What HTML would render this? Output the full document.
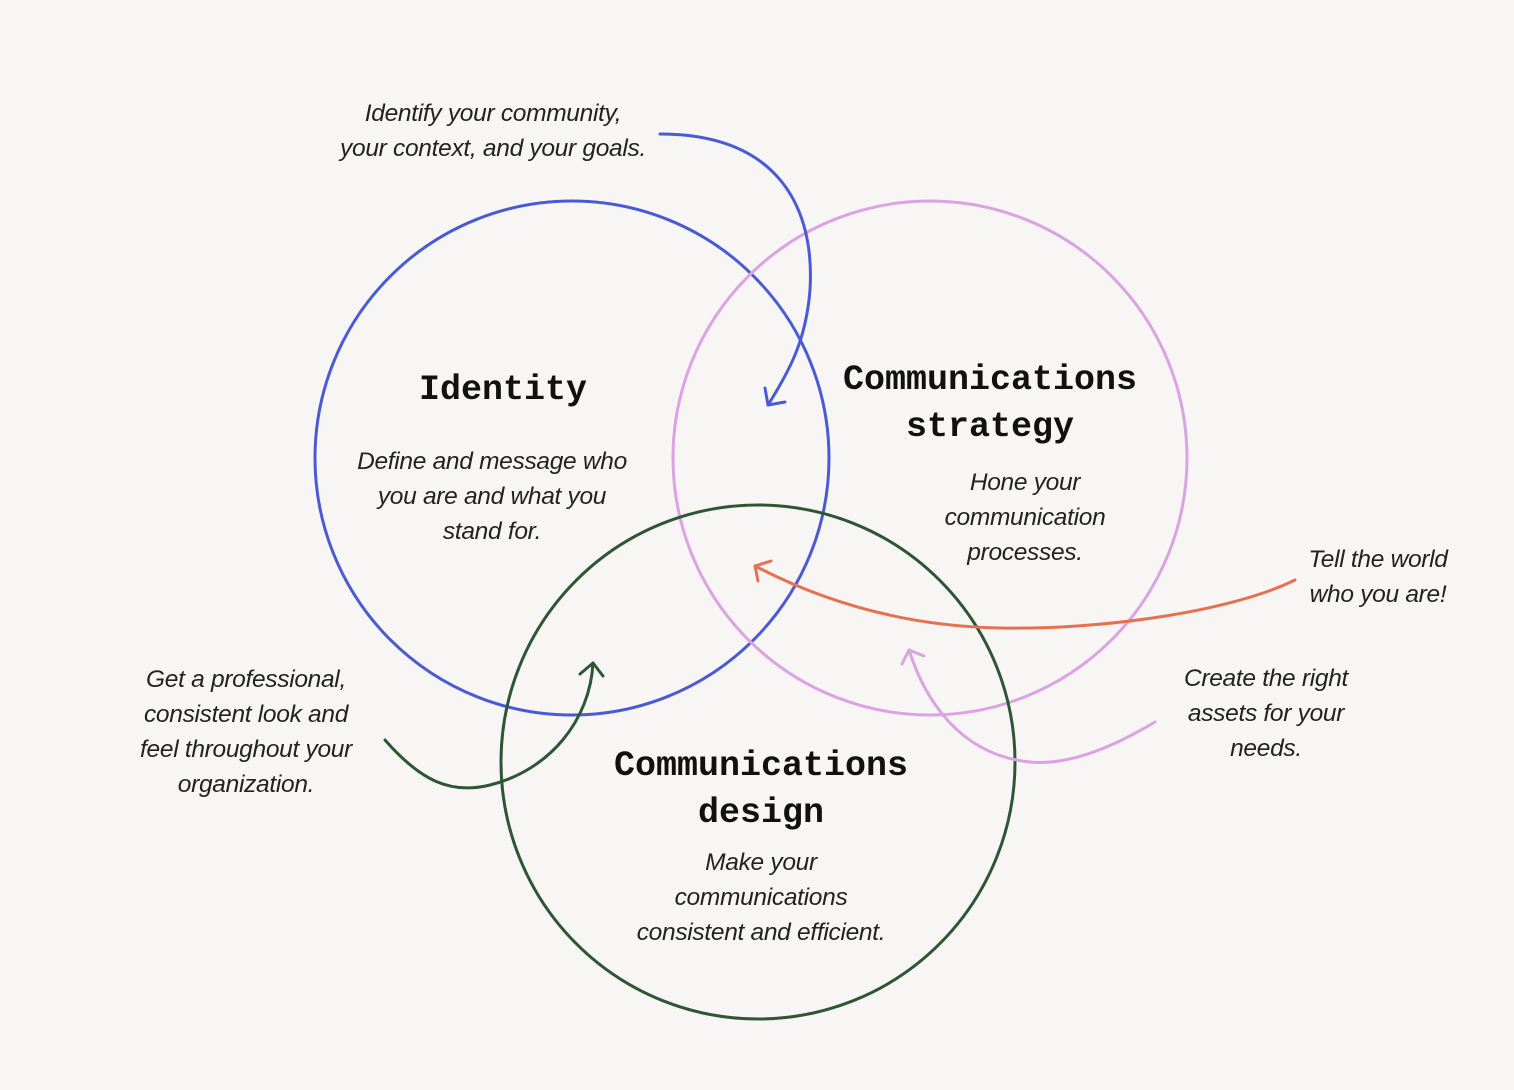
<!DOCTYPE html>
<html><head><meta charset="utf-8"><style>
html,body{margin:0;padding:0;background:#f7f6f5;}
svg{display:block}
.t{font-family:"Liberation Mono",monospace;font-weight:bold;font-size:35px;fill:#111;text-anchor:middle}
.l{font-family:"Liberation Sans",sans-serif;font-style:italic;font-size:24.5px;fill:#222;text-anchor:middle;letter-spacing:-0.3px}
</style></head><body>
<svg width="1514" height="1090" viewBox="0 0 1514 1090">
<rect width="1514" height="1090" fill="#f7f6f5"/>
<g fill="none" stroke-width="3" stroke-linecap="round" stroke-linejoin="round">
<circle cx="572" cy="458" r="257" stroke="#4a5ad4"/>
<circle cx="930" cy="458" r="257" stroke="#dca3e3"/>
<circle cx="758" cy="762" r="257" stroke="#2e5633"/>
<path d="M660 134 C780 134 815 210 810 290 C806 340 790 370 768 405" stroke="#4a5ad4"/>
<path d="M765 388 L768 405 L785 402" stroke="#4a5ad4"/>
<path d="M1295 580 C1230 612 1100 630 1000 628 C900 626 820 600 755 566" stroke="#e7704f"/>
<path d="M771 561 L755 566 L758 581" stroke="#e7704f"/>
<path d="M1155 722 C1100 755 1060 765 1030 762 C960 755 925 700 909 650" stroke="#dca3e3"/>
<path d="M902 664 L909 650 L924 656" stroke="#dca3e3"/>
<path d="M385 740 C420 780 450 795 490 785 C550 770 590 720 593 663" stroke="#2e5633"/>
<path d="M580 674 L593 663 L603 676" stroke="#2e5633"/>
</g>
<text class="t" x="503" y="399">Identity</text>
<text class="t" x="990" y="389">Communications</text>
<text class="t" x="990" y="436">strategy</text>
<text class="t" x="761" y="775">Communications</text>
<text class="t" x="761" y="822">design</text>
<g class="l">
<text x="493" y="121">Identify your community,</text>
<text x="493" y="156">your context, and your goals.</text>
<text x="492" y="469">Define and message who</text>
<text x="492" y="504">you are and what you</text>
<text x="492" y="539">stand for.</text>
<text x="1025" y="490">Hone your</text>
<text x="1025" y="525">communication</text>
<text x="1025" y="560">processes.</text>
<text x="1378" y="567">Tell the world</text>
<text x="1378" y="602">who you are!</text>
<text x="1266" y="686">Create the right</text>
<text x="1266" y="721">assets for your</text>
<text x="1266" y="756">needs.</text>
<text x="246" y="687">Get a professional,</text>
<text x="246" y="722">consistent look and</text>
<text x="246" y="757">feel throughout your</text>
<text x="246" y="792">organization.</text>
<text x="761" y="870">Make your</text>
<text x="761" y="905">communications</text>
<text x="761" y="940">consistent and efficient.</text>
</g>
</svg>
</body></html>
